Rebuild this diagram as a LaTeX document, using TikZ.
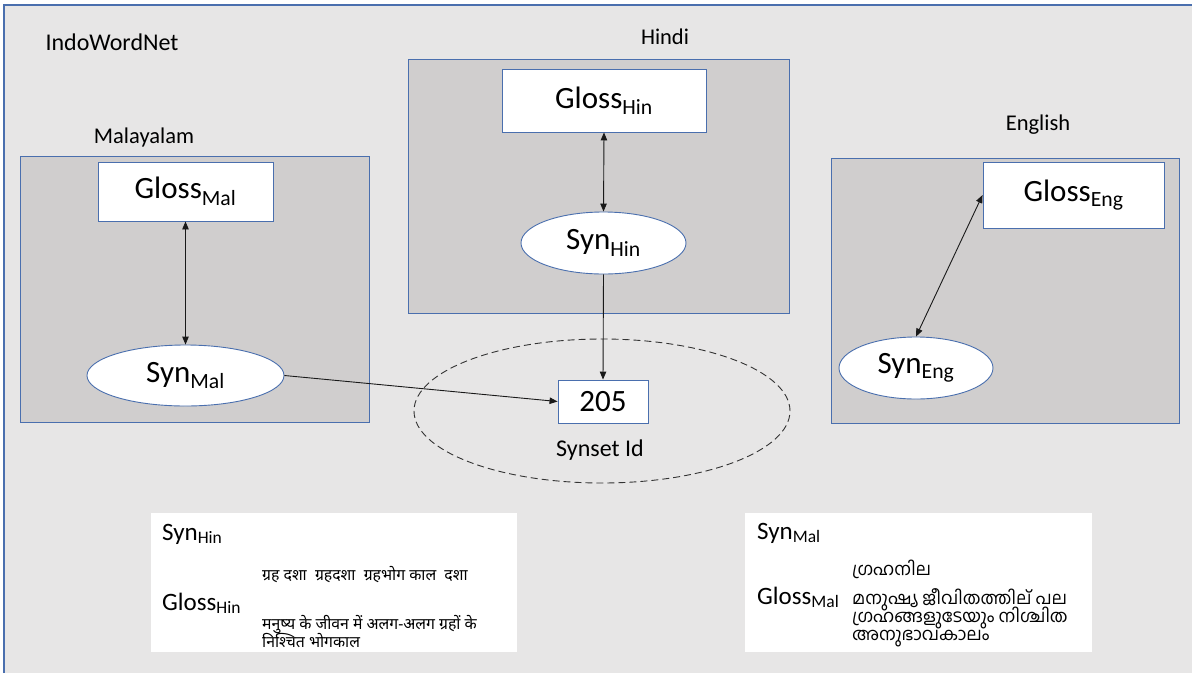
\documentclass[tikz,border=0pt]{standalone}
\usepackage{fontspec}
\setmainfont{Carlito}
\newfontfamily\devfont[Script=Devanagari]{Noto Sans}
\newfontfamily\malfont[Script=Malayalam]{Hind Kochi}
\usetikzlibrary{shapes.geometric,arrows.meta}

\definecolor{canvas}{HTML}{E7E6E6}
\definecolor{panelfill}{HTML}{D0CECE}
\definecolor{rim}{HTML}{4A6FAE}

% fixed line pitch for the tall Indic scripts
\newcommand\fixedpitch{\lineskiplimit=-30pt\relax\lineskip=0pt\relax}

\tikzset{
  panel/.style={draw=rim, line width=0.9pt, fill=panelfill, rectangle, inner sep=0pt},
  glossbox/.style={draw=rim, line width=0.9pt, fill=white, rectangle, inner sep=0pt,
    font=\fontsize{31}{35}\selectfont},
  synnode/.style={draw=rim, line width=0.9pt, fill=white, ellipse, inner sep=0pt,
    font=\fontsize{31}{35}\selectfont},
  caption/.style={font=\fontsize{22.5}{26}\selectfont, inner sep=0pt},
  infobox/.style={fill=white, rectangle, inner sep=0pt},
  infolabel/.style={font=\fontsize{25}{28}\selectfont, inner sep=0pt, anchor=base west},
  devtext/.style={font={\devfont\fontsize{15.8}{18}\selectfont\fixedpitch},
    inner sep=0pt, anchor=base west, align=left},
  maltext/.style={font={\malfont\fontsize{17.5}{18}\selectfont\fixedpitch},
    inner sep=0pt, anchor=base west, align=left},
  link/.style={line width=0.9pt, black!90},
  onehead/.style={link, -{Triangle[length=8pt,width=6.5pt]}},
  twoheads/.style={link, {Triangle[length=8pt,width=6.5pt]}-{Triangle[length=8pt,width=6.5pt]}},
}

\begin{document}
\begin{tikzpicture}[x=1pt,y=-1pt]
  \useasboundingbox (0,0) rectangle (1192,673);

  % outer IndoWordNet frame
  \fill[canvas] (4,5) rectangle (1192,673);
  \draw[rim, line width=1.4pt] (4,673) -- (4,5) -- (1192,5);
  \node[caption, font=\fontsize{24}{28}\selectfont] (iwn) at (112,42) {IndoWordNet};

  % language panels
  \node[panel, minimum width=381pt, minimum height=254pt] (hipanel) at (598.5,186) {};
  \node[panel, minimum width=349pt, minimum height=266pt] (malpanel) at (194.5,289) {};
  \node[panel, minimum width=348pt, minimum height=265pt] (engpanel) at (1005,290.5) {};

  \node[caption] (hilabel) at (665,37) {Hindi};
  \node[caption] (mallabel) at (144,137) {Malayalam};
  \node[caption] (englabel) at (1038,125) {English};

  % glosses and synsets
  \node[glossbox, minimum width=204pt, minimum height=63pt] (glhin) at (604,100.5) {Gloss\textsubscript{Hin}};
  \node[glossbox, minimum width=175pt, minimum height=59pt] (glmal) at (185.5,191.5) {Gloss\textsubscript{Mal}};
  \node[glossbox, minimum width=181pt, minimum height=66pt] (gleng) at (1073.5,195) {Gloss\textsubscript{Eng}};

  \node[synnode, minimum width=165pt, minimum height=62pt] (synhin) at (603.5,243) {Syn\textsubscript{Hin}};
  \node[synnode, minimum width=197pt, minimum height=61pt] (synmal) at (185.5,375.5) {Syn\textsubscript{Mal}};
  \node[synnode, minimum width=154pt, minimum height=62pt] (syneng) at (916,368) {Syn\textsubscript{Eng}};

  % shared synset id
  \node[draw=black!80, dash pattern=on 7pt off 4pt, line width=0.9pt, ellipse, inner sep=0pt,
        minimum width=376pt, minimum height=144pt] (idzone) at (602,411) {};
  \node[glossbox, minimum width=90pt, minimum height=43pt] (sid) at (603,401.5) {205};
  \node[caption, font=\fontsize{24}{28}\selectfont] (sidlabel) at (600,450) {Synset Id};

  % connectors
  \draw[twoheads] (glhin.south) -- (synhin.north);
  \draw[twoheads] (glmal.south) -- (synmal.north);
  \draw[twoheads] (syneng.north) -- (gleng.west);
  \draw[onehead] (synhin.south) -- (sid.north);
  \draw[onehead] (synmal.east) -- (sid.west);

  % example entries
  \node[infobox, minimum width=366pt, minimum height=139pt] (hibox) at (334,582.5) {};
  \node[infolabel] (hisyn) at (162,540) {Syn\textsubscript{Hin}};
  \node[devtext] (hiwords) at (262,580) {ग्रह दशा\ \ ग्रहदशा\ \ ग्रहभोग काल\ \ दशा};
  \node[infolabel] (higloss) at (162,610) {Gloss\textsubscript{Hin}};
  \node[devtext] (higlosstext) at (262,647) {मनुष्य के जीवन में अलग-अलग ग्रहों के\\निश्चित भोगकाल};

  \node[infobox, minimum width=347pt, minimum height=139pt] (malbox) at (918.5,582.5) {};
  \node[infolabel] (malsyn) at (757,539) {Syn\textsubscript{Mal}};
  \node[maltext] (malwords) at (852,575) {ഗ്രഹനില};
  \node[infolabel] (malgloss) at (757,604) {Gloss\textsubscript{Mal}};
  \node[maltext] (malglosstext) at (852,640) {മനുഷ്യ ജീവിതത്തില് പല\\ഗ്രഹങ്ങളുടേയും നിശ്ചിത\\അനുഭാവകാലം};
\end{tikzpicture}
\end{document}
